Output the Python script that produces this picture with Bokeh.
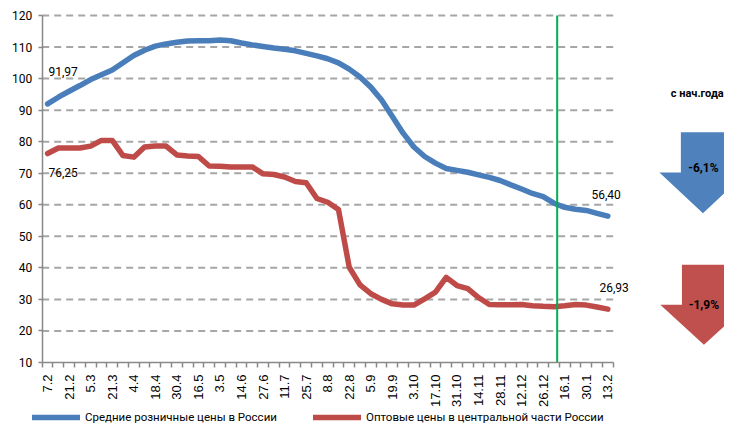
import numpy as np
from bokeh.plotting import figure
from bokeh.models import Range1d, FixedTicker, Legend, LegendItem, Label
from bokeh.embed import file_html
from bokeh.resources import INLINE

# ---- data ----
tick_labels = ["7.2", "21.2", "5.3", "21.3", "4.4", "18.4", "30.4", "16.5", "3.5",
               "14.6", "27.6", "11.7", "25.7", "8.8", "22.8", "5.9", "19.9", "3.10",
               "17.10", "31.10", "14.11", "28.11", "12.12", "26.12", "16.1", "30.1", "13.2"]

retail = [91.97, 94.1, 96.0, 97.8, 99.7, 101.2, 102.7, 105.0, 107.3, 109.0,
          110.3, 111.0, 111.5, 111.9, 112.0, 112.0, 112.2, 112.0, 111.3, 110.7,
          110.2, 109.7, 109.3, 108.8, 108.0, 107.2, 106.3, 105.0, 103.0, 100.5,
          97.3, 93.2, 88.0, 82.7, 78.3, 75.3, 73.2, 71.5, 70.9, 70.3,
          69.5, 68.7, 67.7, 66.3, 65.0, 63.6, 62.6, 60.5, 59.2, 58.6,
          58.2, 57.3, 56.40]

wholesale = [76.25, 78.0, 78.0, 78.0, 78.6, 80.4, 80.4, 75.6, 75.1, 78.3,
             78.6, 78.6, 75.8, 75.5, 75.3, 72.3, 72.2, 72.0, 72.0, 72.0,
             69.8, 69.6, 68.8, 67.4, 67.0, 62.0, 60.8, 58.5, 40.2, 34.6,
             31.8, 30.0, 28.6, 28.2, 28.2, 30.2, 32.3, 37.0, 34.4, 33.4,
             30.6, 28.4, 28.3, 28.3, 28.4, 28.0, 27.8, 27.7, 28.0, 28.4,
             28.2, 27.6, 26.93]

series_names = ["Средние розничные цены в России", "Оптовые цены в центральной части России"]
ytd_changes = ["-6,1%", "-1,9%"]
ytd_title = "с нач.года"
y_ticks = list(range(10, 121, 10))

# ---- styles ----
BLUE = "#4A7EBB"
RED = "#BE4B48"
ARROW_BLUE = "#4F81BD"
ARROW_RED = "#C0504D"
GRID = "#A6A6A6"
AXIS = "#898989"
UI = "Roboto"
SANS = "Liberation Sans"

x = list(range(len(retail)))
n = len(x)

# the frame fills the whole canvas; axes are pinned at the data edges
p = figure(width=724, height=425, output_backend="svg", toolbar_location=None,
           x_range=Range1d(-4.37, 62.83), y_range=Range1d(-9.97, 124.76),
           min_border_left=0, min_border_right=0, min_border_top=0, min_border_bottom=0)
p.outline_line_color = None
p.xgrid.visible = False
p.ygrid.visible = False
p.background_fill_color = "white"
p.border_fill_color = "white"

# dashed horizontal gridlines limited to the plot area
gy = [v for v in y_ticks if v > y_ticks[0]]
p.segment(x0=[-0.5] * len(gy), y0=gy, x1=[n - 0.5] * len(gy), y1=gy,
          line_color=GRID, line_width=2, line_dash="7 5")

# x axis
xa = p.xaxis[0]
xa.fixed_location = y_ticks[0]
xa.ticker = FixedTicker(ticks=list(range(0, n, 2)),
                        minor_ticks=[i - 0.5 for i in range(n + 1)])
xa.major_label_overrides = {i * 2: lab for i, lab in enumerate(tick_labels)}
xa.major_tick_line_color = None
xa.minor_tick_in = 0
xa.minor_tick_out = 5
xa.minor_tick_line_color = AXIS
xa.minor_tick_line_width = 1.5
xa.axis_line_color = AXIS
xa.axis_line_width = 1.5
xa.bounds = (-0.5, n - 0.5)
xa.major_label_orientation = np.pi / 2
xa.major_label_text_font = SANS
xa.major_label_text_font_size = "13px"
xa.major_label_text_color = "#000000"
xa.major_label_standoff = 6

# y axis
ya = p.yaxis[0]
ya.fixed_location = -0.5
ya.ticker = FixedTicker(ticks=y_ticks)
ya.major_tick_in = 0
ya.major_tick_out = 4
ya.major_tick_line_color = AXIS
ya.major_tick_line_width = 1.5
ya.minor_tick_line_color = None
ya.axis_line_color = AXIS
ya.axis_line_width = 1.5
ya.bounds = (y_ticks[0], y_ticks[-1])
ya.major_label_text_font = UI
ya.major_label_text_font_size = "12px"
ya.major_label_text_color = "#000000"
ya.major_label_standoff = 6

# series
r_blue = p.line(x, retail, line_color=BLUE, line_width=5.5, line_join="round", line_cap="round")
r_red = p.line(x, wholesale, line_color=RED, line_width=5.5, line_join="round", line_cap="round")

# start-of-year marker
year_start_x = 47.3
p.segment(x0=[year_start_x], y0=[y_ticks[0]], x1=[year_start_x], y1=[y_ticks[-1]],
          line_color="#00B050", line_width=2)

# value labels
def fmt(v):
    return f"{v:.2f}".replace(".", ",")

lab_style = dict(text_font=UI, text_font_size="12px", text_color="#000000",
                 text_baseline="middle", text_align="left")
p.add_layout(Label(x=0.08, y=102.3, text=fmt(retail[0]), **lab_style))
p.add_layout(Label(x=0.08, y=70.2, text=fmt(wholesale[0]), **lab_style))
p.add_layout(Label(x=50.48, y=63.3, text=fmt(retail[-1]), **lab_style))
p.add_layout(Label(x=51.23, y=33.8, text=fmt(wholesale[-1]), **lab_style))

# year-to-date arrows
def arrow(cx, shaft_hw, head_hw, top, head_y, tip):
    xs = [cx - shaft_hw, cx + shaft_hw, cx + shaft_hw, cx + head_hw, cx, cx - head_hw, cx - shaft_hw]
    ys = [top, top, head_y, head_y, tip, head_y, head_y]
    return xs, ys

bx, by = arrow(60.83, 2.05, 4.04, 83.0, 70.2, 57.3)
p.patch(bx, by, fill_color=ARROW_BLUE, line_color=None)
rx, ry = arrow(60.92, 2.04, 4.05, 41.0, 28.3, 15.6)
p.patch(rx, ry, fill_color=ARROW_RED, line_color=None)

bold = dict(text_font=UI, text_font_size="12px", text_font_style="bold",
            text_color="#000000", text_baseline="middle", text_align="center")
p.add_layout(Label(x=60.3, y=95.4, text=ytd_title,
                   **{**bold, "text_font_size": "11px"}))
p.add_layout(Label(x=60.87, y=71.8, text=ytd_changes[0], **bold))
p.add_layout(Label(x=60.92, y=28.1, text=ytd_changes[1], **bold))

# legend (two blocks under the axis)
leg_style = dict(orientation="horizontal", padding=0, margin=0, spacing=0,
                 border_line_color=None, background_fill_alpha=0,
                 glyph_width=48, glyph_height=14, label_height=14,
                 label_standoff=5, label_text_font=UI,
                 label_text_font_size="11.5px", label_text_color="#000000")
leg1 = Legend(items=[LegendItem(label=series_names[0], renderers=[r_blue])],
              location=(32, 1), **leg_style)
leg2 = Legend(items=[LegendItem(label=series_names[1], renderers=[r_red])],
              location=(313, 1), **leg_style)
p.add_layout(leg1)
p.add_layout(leg2)

open("out.html", "w").write(file_html(p, INLINE))
